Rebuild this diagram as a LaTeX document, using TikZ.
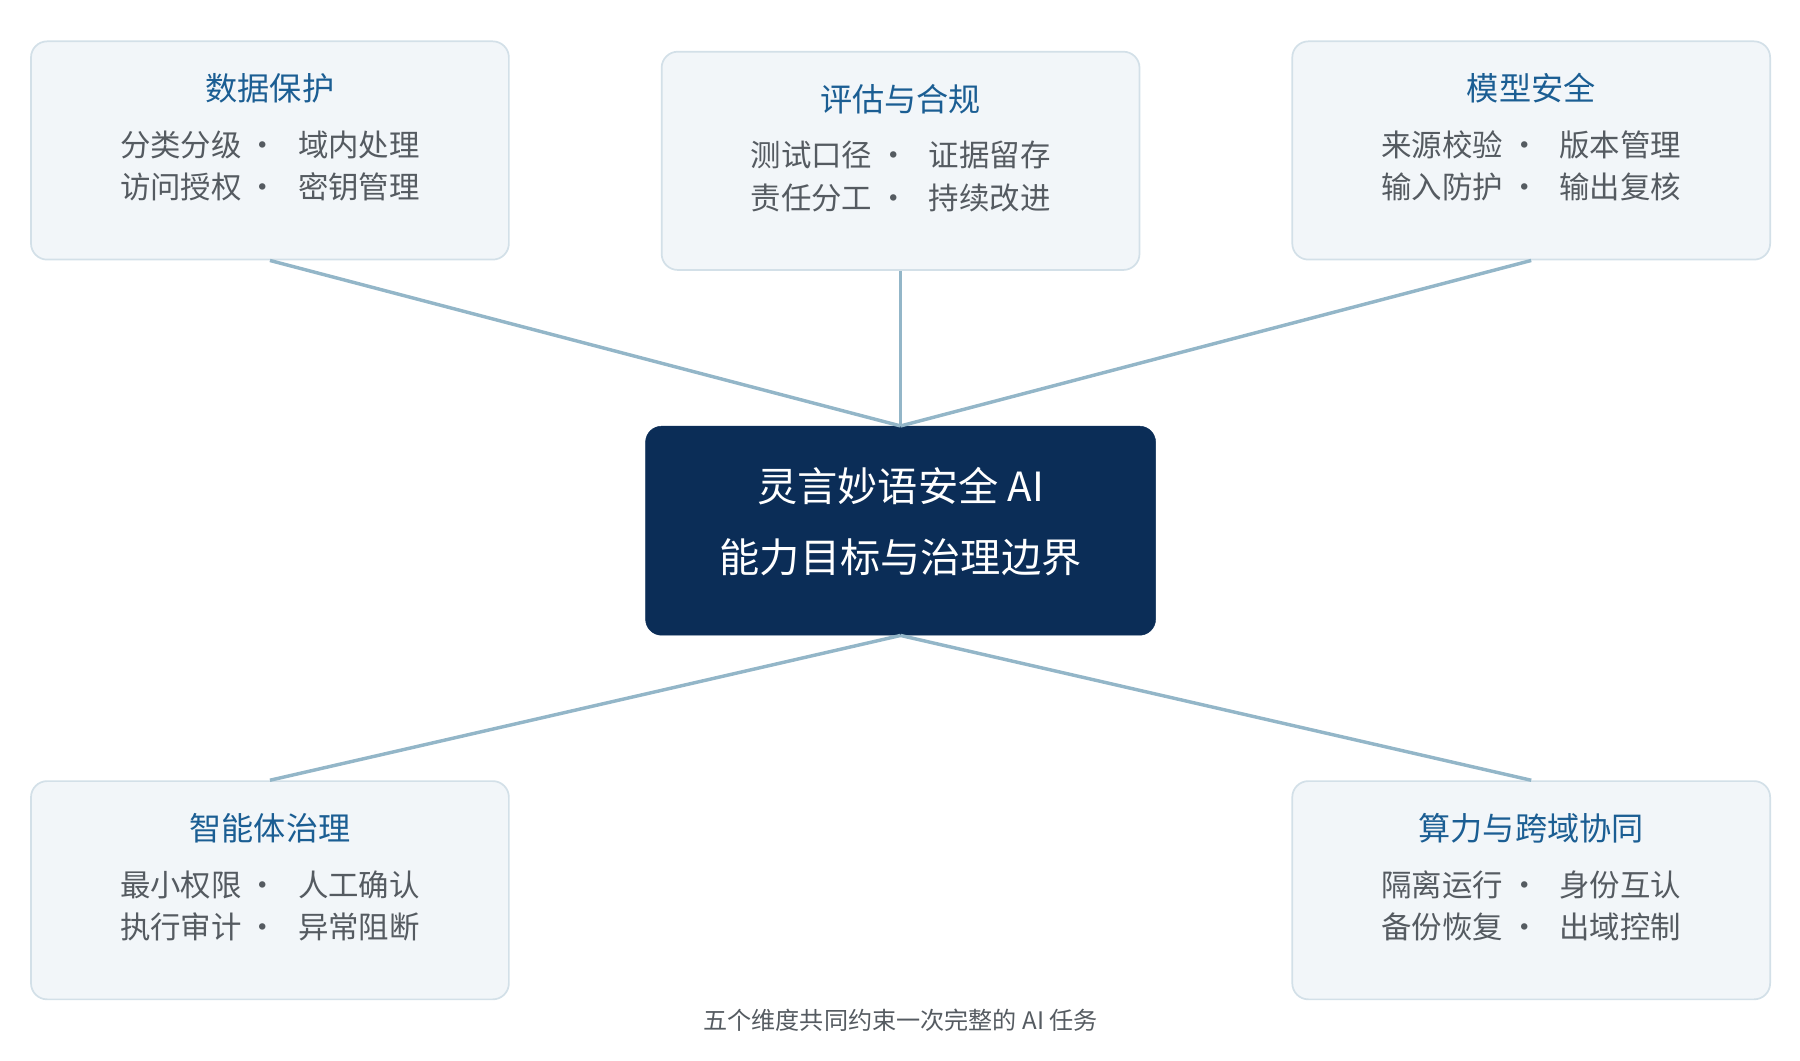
\documentclass[tikz,border=0pt]{standalone}
\usepackage{fontspec}
\setmainfont{Noto Sans CJK SC}
\newcommand{\sep}{\hspace{0.2em}·\hspace{0.65em}}
\begin{document}
\begin{tikzpicture}[x=1pt,y=-1pt,
 box/.style={draw=boxline,fill=boxfill,line width=1.5pt,rounded corners=14pt,minimum width=416pt,minimum height=190pt},
 ttl/.style={text=ttlc,font=\fontsize{28}{32}\selectfont},
 itm/.style={text=itmc,font=\fontsize{26.5}{30}\selectfont},
 conn/.style={draw=connc,line width=3pt}]
\definecolor{boxline}{HTML}{D3E0E8}
\definecolor{boxfill}{HTML}{F2F6F9}
\definecolor{ttlc}{HTML}{1B5E93}
\definecolor{itmc}{HTML}{555B61}
\definecolor{connc}{HTML}{93B6C8}
\definecolor{core}{HTML}{0B2D57}
\useasboundingbox (0,0) rectangle (1567,923);
\node[box] (a) at (235,131) {};
\node[box] (b) at (784,140) {};
\node[box] (c) at (1333,131) {};
\node[box] (d) at (235,775) {};
\node[box] (e) at (1333,775) {};
\node[draw=core,fill=core,rounded corners=14pt,minimum width=444pt,minimum height=182pt] (m) at (784,462) {};
\draw[conn] (a.south) -- (m.north);
\draw[conn] (b.south) -- (m.north);
\draw[conn] (c.south) -- (m.north);
\draw[conn] (m.south) -- (d.north);
\draw[conn] (m.south) -- (e.north);
\node[ttl] (at) at (235,77) {数据保护};
\node[itm] (a1) at (235,126) {分类分级\sep 域内处理};
\node[itm] (a2) at (235,163) {访问授权\sep 密钥管理};
\node[ttl] (bt) at (784,86) {评估与合规};
\node[itm] (b1) at (784,135) {测试口径\sep 证据留存};
\node[itm] (b2) at (784,172) {责任分工\sep 持续改进};
\node[ttl] (ct) at (1333,77) {模型安全};
\node[itm] (c1) at (1333,126) {来源校验\sep 版本管理};
\node[itm] (c2) at (1333,163) {输入防护\sep 输出复核};
\node[ttl] (dt) at (235,721) {智能体治理};
\node[itm] (d1) at (235,770) {最小权限\sep 人工确认};
\node[itm] (d2) at (235,807) {执行审计\sep 异常阻断};
\node[ttl] (et) at (1333,721) {算力与跨域协同};
\node[itm] (e1) at (1333,770) {隔离运行\sep 身份互认};
\node[itm] (e2) at (1333,807) {备份恢复\sep 出域控制};
\node[text=white,font=\fontsize{35}{40}\selectfont] (m1) at (784,423) {灵言妙语安全 AI};
\node[text=white,font=\fontsize{35}{40}\selectfont] (m2) at (784,485) {能力目标与治理边界};
\node[text=itmc,font=\fontsize{21}{24}\selectfont] (cap) at (784,888) {五个维度共同约束一次完整的 AI 任务};
\end{tikzpicture}
\end{document}
